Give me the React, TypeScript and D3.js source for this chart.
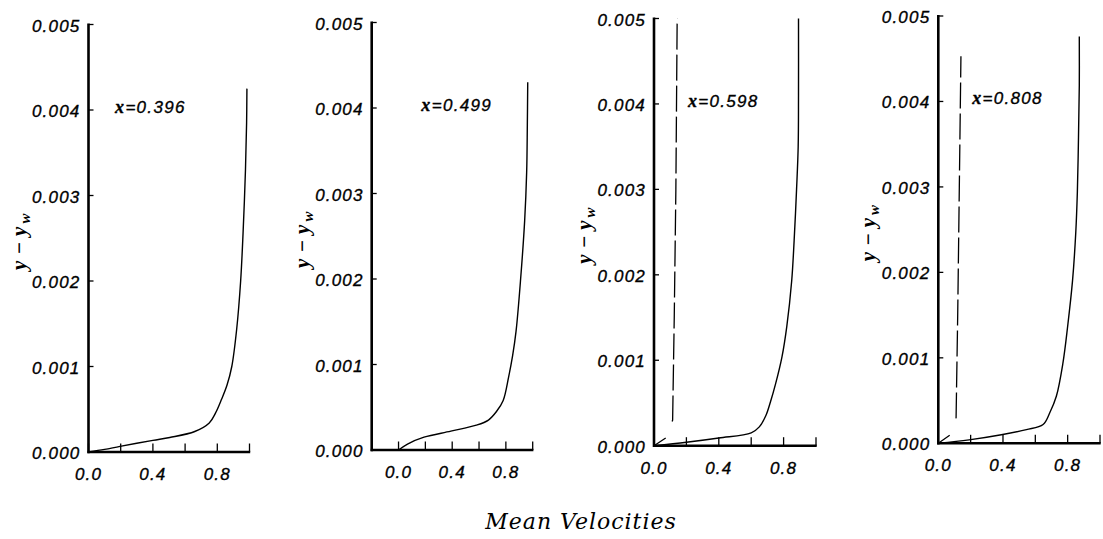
import React from 'react';
import * as d3 from 'd3';

// ---- data ----
const stations = ['0.396', '0.499', '0.598', '0.808'];
const yTickValues = [0, 0.001, 0.002, 0.003, 0.004, 0.005];
const yTickLabels = ['0.000', '0.001', '0.002', '0.003', '0.004', '0.005'];
const xLabelValues = [0, 0.4, 0.8];
const xLabelTexts = ['0.0', '0.4', '0.8'];

// mean velocity profiles [velocity, y - y_w]
const profile1: [number, number][] = [
  [0, 0], [0.1, 0.00003], [0.196, 0.000066], [0.4, 0.000136], [0.505, 0.00017],
  [0.66, 0.00024], [0.75, 0.00034], [0.79, 0.00046], [0.825, 0.00061], [0.86, 0.00078],
  [0.89, 0.001], [0.92, 0.00143], [0.945, 0.002], [0.96, 0.00256], [0.975, 0.0033],
  [0.982, 0.00385], [0.984, 0.00425],
];
const profile2: [number, number][] = [
  [0, 0], [0.067, 0.00007], [0.19, 0.00015], [0.39, 0.00022], [0.58, 0.00029],
  [0.67, 0.00035], [0.73, 0.00045], [0.78, 0.00058], [0.82, 0.00085], [0.85, 0.0011],
  [0.876, 0.00139], [0.91, 0.002], [0.94, 0.00268], [0.955, 0.00325], [0.96, 0.0038],
  [0.963, 0.0043],
];
const profile3: [number, number][] = [
  [0, 0], [0.2, 0.00004], [0.4, 0.00009], [0.6, 0.00015], [0.65, 0.00022],
  [0.69, 0.00035], [0.72, 0.00052], [0.75, 0.00072], [0.79, 0.00104], [0.82, 0.0014],
  [0.85, 0.00193], [0.865, 0.0024], [0.88, 0.003], [0.89, 0.0035], [0.892, 0.0041],
  [0.892, 0.005],
];
const profile4: [number, number][] = [
  [0, 0], [0.19, 0.00004], [0.39, 0.0001], [0.545, 0.00016], [0.648, 0.00022],
  [0.69, 0.00036], [0.73, 0.00055], [0.77, 0.00093], [0.8, 0.00137], [0.83, 0.0019],
  [0.85, 0.00246], [0.86, 0.00294], [0.867, 0.00358], [0.872, 0.00419], [0.872, 0.00476],
];
// dashed (second) profiles, only in the two downstream stations
const dashed3: [number, number][] = [
  [0, 0], [0.08, 0.0001], [0.115, 0.0003], [0.125, 0.0015], [0.135, 0.003], [0.143, 0.005],
];
const dashed4: [number, number][] = [
  [0, 0], [0.074, 0.0001], [0.11, 0.0003], [0.12, 0.0015], [0.13, 0.003], [0.14, 0.00453],
];

const xTicks1 = [0, 0.2, 0.4, 0.6, 0.8, 1.0];
const xTicks2 = [-0.2, 0, 0.2, 0.4, 0.6, 0.8, 1.0];

// ---- layout ----
type Panel = {
  left: number; right: number; top: number; bottom: number;
  xDomain: [number, number]; xTicks: number[];
  solid: [number, number][]; dashed: [number, number][] | null;
  labelV: number;
};

const panels: Panel[] = [
  { left: 88.5, right: 249.5, top: 24.5, bottom: 452, xDomain: [0, 1], xTicks: xTicks1, solid: profile1, dashed: null, labelV: 0.165 },
  { left: 371.7, right: 532.7, top: 22.5, bottom: 450, xDomain: [-0.2, 1], xTicks: xTicks2, solid: profile2, dashed: null, labelV: 0.17 },
  { left: 654, right: 816, top: 18.5, bottom: 445.7, xDomain: [0, 1], xTicks: xTicks1, solid: profile3, dashed: dashed3, labelV: 0.21 },
  { left: 938.3, right: 1100, top: 16, bottom: 443.3, xDomain: [0, 1], xTicks: xTicks1, solid: profile4, dashed: dashed4, labelV: 0.21 },
];

const sans = '"Liberation Sans", Arial, Helvetica, sans-serif';
const serif = '"Liberation Serif", "Times New Roman", serif';

const dashPattern = '14,18,' + Array(24).fill('26,5').join(',');

function PanelView({ p, i }: { p: Panel; i: number }) {
  const x = d3.scaleLinear().domain(p.xDomain).range([p.left, p.right]);
  const y = d3.scaleLinear().domain([0, 0.005]).range([p.bottom, p.top]);
  const line = d3.line<[number, number]>().x(d => x(d[0])).y(d => y(d[1])).curve(d3.curveCatmullRom.alpha(0.5));
  const dline = d3.line<[number, number]>().x(d => x(d[0])).y(d => y(d[1]));
  const midY = (p.top + p.bottom) / 2 + 2;
  const labelX = p.left - 63;
  const txt = { fontFamily: sans, fontStyle: 'italic', fontSize: 17, letterSpacing: 1.2, fill: '#000', stroke: '#000', strokeWidth: 0.35 } as const;
  return (
    <g>
      {/* y axis */}
      <line x1={p.left} x2={p.left} y1={y(0.005) - 1} y2={p.bottom + 1.2} stroke="#000" strokeWidth={2.6} />
      {yTickValues.map((t, k) => (
        <g key={k}>
          <line x1={p.left} x2={p.left + 5} y1={y(t)} y2={y(t)} stroke="#000" strokeWidth={1.3} />
          <text x={p.left - 8} y={y(t) + 7} textAnchor="end" {...txt}>
            {yTickLabels[k]}
          </text>
        </g>
      ))}
      {/* x axis */}
      <line x1={p.left - 1} x2={p.right + 0.7} y1={p.bottom} y2={p.bottom} stroke="#000" strokeWidth={2.6} />
      {p.xTicks.map((t, k) => (
        <line key={k} x1={x(t)} x2={x(t)} y1={p.bottom} y2={p.bottom - 8.5} stroke="#000" strokeWidth={1.3} />
      ))}
      {xLabelValues.map((t, k) => (
        <text key={k} x={x(t)} y={p.bottom + 28} textAnchor="middle" {...txt}>
          {xLabelTexts[k]}
        </text>
      ))}
      {/* y label */}
      <text transform={`translate(${labelX},${midY}) rotate(-90)`} textAnchor="middle" fontFamily={serif} fontStyle="italic" fontWeight="bold" fontSize={21} letterSpacing={3} fill="#000">
        <tspan>y</tspan><tspan dx={3}>−</tspan><tspan dx={3}>y</tspan><tspan fontSize={15} dy={4}>w</tspan>
      </text>
      {/* profiles */}
      {p.dashed && (
        <path d={dline(p.dashed) || ''} fill="none" stroke="#000" strokeWidth={1.3} strokeDasharray={dashPattern} />
      )}
      <path d={line(p.solid) || ''} fill="none" stroke="#000" strokeWidth={1.4} />
      {/* station label */}
      <text x={x(p.labelV)} y={y(0.004) + 3} {...txt} letterSpacing={1.3}>
        <tspan fontFamily={serif} fontWeight="bold" fontSize={18}>x</tspan>
        <tspan>={stations[i]}</tspan>
      </text>
    </g>
  );
}

export default function App() {
  return (
    <svg width={1103} height={539} style={{ position: 'absolute', left: 0, top: 0, background: '#fff' }}>
      <rect x={0} y={0} width={1103} height={539} fill="#fff" />
      {panels.map((p, i) => <PanelView key={i} p={p} i={i} />)}
      <text x={581} y={529} textAnchor="middle" fontFamily='"DejaVu Serif", serif' fontStyle="italic" fontSize={22} letterSpacing={1.0} fill="#000">
        Mean Velocities
      </text>
    </svg>
  );
}
